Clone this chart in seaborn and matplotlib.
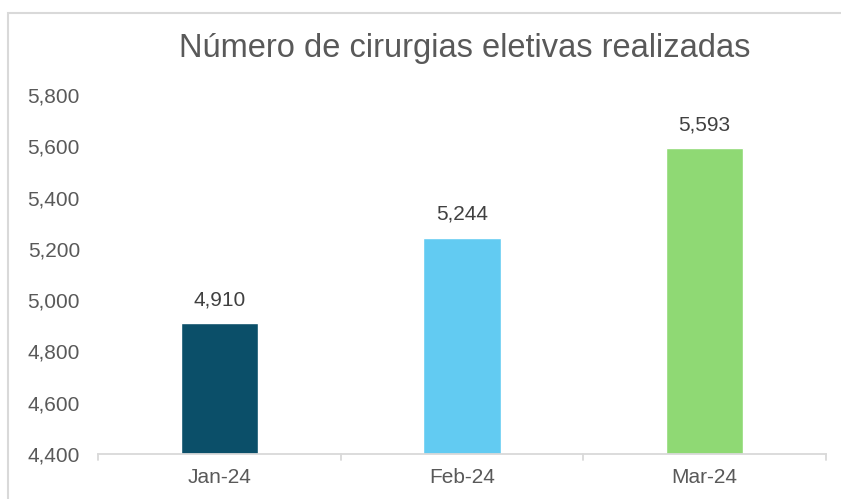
import matplotlib
matplotlib.use("Agg")
import matplotlib.pyplot as plt
import seaborn as sns
import pandas as pd
from matplotlib.patches import Rectangle
from matplotlib.ticker import FuncFormatter

categories = ["Jan-24", "Feb-24", "Mar-24"]
values = [4910, 5244, 5593]
colors = ["#0b4f69", "#62cbf2", "#8fd974"]
title = "Número de cirurgias eletivas realizadas"

sns.set_theme(style="white")
plt.rcParams["font.family"] = ["Liberation Sans", "DejaVu Sans"]

df = pd.DataFrame({"mes": categories, "valor": values})

W, H = 841, 499
fig = plt.figure(figsize=(W / 100, H / 100), dpi=100)
ax = fig.add_axes([98 / W, (H - 454) / H, (826 - 98) / W, (454 - 95) / H])

sns.barplot(data=df, x="mes", y="valor", hue="mes", palette=colors,
            width=0.32, ax=ax, legend=False, saturation=1)

ax.set_ylim(4400, 5800)
ax.set_xlim(-0.5, 2.5)
ax.set_yticks(range(4400, 5801, 200))
ax.yaxis.set_major_formatter(FuncFormatter(lambda v, p: f"{int(v):,}"))
ax.set_xlabel("")
ax.set_ylabel("")

text_color = "#595959"
ax.tick_params(axis="y", labelsize=15, colors=text_color, length=0, pad=13)
ax.tick_params(axis="x", labelsize=15, colors=text_color, length=0, pad=10)

for s in ["top", "right", "left"]:
    ax.spines[s].set_visible(False)
ax.spines["bottom"].set_color("#d9d9d9")
ax.spines["bottom"].set_linewidth(1.3)

# category boundary tick marks
for xb in [-0.5, 0.5, 1.5, 2.5]:
    ax.plot([xb, xb], [0, -0.017], transform=ax.get_xaxis_transform(),
            color="#d9d9d9", lw=1.3, clip_on=False)

for i, v in enumerate(values):
    ax.annotate(f"{v:,}", (i, v), xytext=(0, 10), textcoords="offset points",
                ha="center", va="bottom", fontsize=15, color="#404040")

fig.text(465 / W, 1 - 49 / H, title, ha="center", va="center",
         fontsize=23.5, color="#595959")

# chart border
fig.patches.append(Rectangle((8 / W, -0.1), 1.2, 1 - 12.5 / H + 0.1,
                             transform=fig.transFigure, fill=False,
                             edgecolor="#d9d9d9", lw=1.5))

fig.savefig("out.png", dpi=100)
